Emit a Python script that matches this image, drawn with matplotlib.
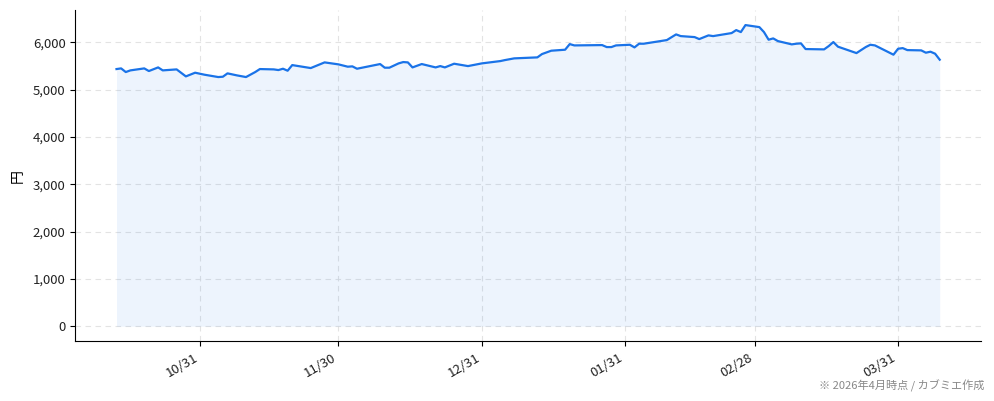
import matplotlib
matplotlib.use("Agg")
import matplotlib.pyplot as plt
import pandas as pd

plt.rcParams['font.family'] = ['Noto Sans CJK JP', 'DejaVu Sans']

dates = [
    "2025-10-13", "2025-10-14", "2025-10-15", "2025-10-16", "2025-10-19", "2025-10-20",
    "2025-10-22", "2025-10-23", "2025-10-26", "2025-10-28", "2025-10-30", "2025-11-01",
    "2025-11-04", "2025-11-05", "2025-11-06", "2025-11-08", "2025-11-10", "2025-11-12",
    "2025-11-13", "2025-11-16", "2025-11-17", "2025-11-18", "2025-11-19", "2025-11-20",
    "2025-11-24", "2025-11-27", "2025-11-30", "2025-12-02", "2025-12-03", "2025-12-04",
    "2025-12-09", "2025-12-10", "2025-12-11", "2025-12-13", "2025-12-14", "2025-12-15",
    "2025-12-16", "2025-12-18", "2025-12-21", "2025-12-22", "2025-12-23", "2025-12-25",
    "2025-12-28", "2025-12-31", "2026-01-04", "2026-01-05", "2026-01-07", "2026-01-12",
    "2026-01-13", "2026-01-15", "2026-01-18", "2026-01-19", "2026-01-20", "2026-01-26",
    "2026-01-27", "2026-01-28", "2026-01-29", "2026-02-01", "2026-02-02", "2026-02-03",
    "2026-02-04", "2026-02-09", "2026-02-11", "2026-02-12", "2026-02-15", "2026-02-16",
    "2026-02-18", "2026-02-19", "2026-02-23", "2026-02-24", "2026-02-25", "2026-02-26",
    "2026-03-01", "2026-03-02", "2026-03-03", "2026-03-04", "2026-03-05", "2026-03-08",
    "2026-03-09", "2026-03-10", "2026-03-11", "2026-03-15", "2026-03-16", "2026-03-17",
    "2026-03-18", "2026-03-22", "2026-03-24", "2026-03-25", "2026-03-26", "2026-03-30",
    "2026-03-31", "2026-04-01", "2026-04-02", "2026-04-05", "2026-04-06", "2026-04-07",
    "2026-04-08", "2026-04-09",
]
prices = [
    5437, 5451, 5374, 5409, 5451, 5395,
    5472, 5409, 5430, 5282, 5360, 5318,
    5268, 5275, 5346, 5304, 5268, 5374,
    5437, 5430, 5416, 5444, 5402, 5521,
    5458, 5578, 5536, 5487, 5494, 5444,
    5543, 5466, 5466, 5557, 5585, 5578,
    5472, 5543, 5472, 5500, 5472, 5550,
    5500, 5557, 5606, 5627, 5663, 5684,
    5754, 5825, 5846, 5965, 5937, 5944,
    5902, 5902, 5937, 5951, 5895, 5973,
    5973, 6050, 6170, 6134, 6113, 6071,
    6149, 6134, 6198, 6261, 6219, 6367,
    6324, 6219, 6058, 6085, 6029, 5959,
    5973, 5980, 5860, 5853, 5923, 6008,
    5910, 5775, 5902, 5951, 5937, 5741,
    5867, 5880, 5838, 5832, 5783, 5804,
    5762, 5635,
]
tick_dates = ["2025-10-31", "2025-11-30", "2025-12-31", "2026-01-31", "2026-02-28", "2026-03-31"]
tick_labels = ["10/31", "11/30", "12/31", "01/31", "02/28", "03/31"]
y_ticks = [0, 1000, 2000, 3000, 4000, 5000, 6000]
y_label = "円"
note = "※ 2026年4月時点 / カブミエ作成"

x = pd.to_datetime(dates)
blue = "#1a73e8"

fig = plt.figure(figsize=(9.94, 4.01), dpi=100)
ax = fig.add_axes([0.0758, 0.149, 0.911, 0.826])
ax.plot(x, prices, color=blue, linewidth=1.6)
ax.fill_between(x, prices, 0, color=blue, alpha=0.08, linewidth=0)

ax.set_xticks(pd.to_datetime(tick_dates))
ax.set_xticklabels(tick_labels, rotation=30, ha="right", fontsize=9.5, color="#222222")
ax.set_yticks(y_ticks)
ax.yaxis.set_major_formatter(matplotlib.ticker.FuncFormatter(lambda v, p: f"{int(v):,}"))
ax.tick_params(axis="y", labelsize=9.5, labelcolor="#222222")
ax.set_ylabel(y_label, fontsize=10, labelpad=6)
ax.grid(True, linestyle=(0, (5, 4)), color="#dddddd", linewidth=0.8, alpha=0.8)
ax.set_axisbelow(True)
ax.spines["top"].set_visible(False)
ax.spines["right"].set_visible(False)

fig.text(0.99, 0.022, note, ha="right", va="bottom", fontsize=8, color="#888888")

fig.savefig("out.png", dpi=100)
